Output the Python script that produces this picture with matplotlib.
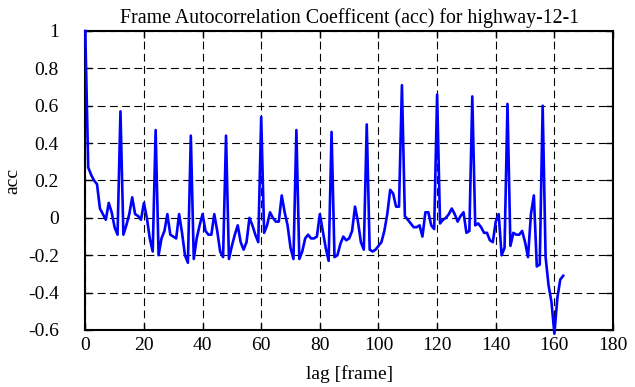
import matplotlib
matplotlib.use("Agg")
import matplotlib.pyplot as plt
import numpy as np

acc = [
    1.00, 0.27, 0.23, 0.20, 0.18, 0.05, 0.02, -0.01, 0.08, 0.03,
    -0.05, -0.09, 0.57, -0.09, -0.04, 0.02, 0.11, 0.02, 0.01, -0.01,
    0.08, 0.00, -0.11, -0.18, 0.47, -0.20, -0.11, -0.07, 0.02, -0.09,
    -0.10, -0.11, 0.02, -0.08, -0.20, -0.24, 0.44, -0.22, -0.11, -0.04,
    0.02, -0.07, -0.09, -0.09, 0.02, -0.07, -0.18, -0.21, 0.44, -0.22,
    -0.15, -0.09, -0.04, -0.13, -0.17, -0.13, 0.00, -0.04, -0.09, -0.13,
    0.54, -0.08, -0.04, 0.03, 0.00, -0.02, -0.02, 0.12, 0.03, -0.04,
    -0.16, -0.22, 0.47, -0.22, -0.18, -0.11, -0.09, -0.11, -0.11, -0.10,
    0.02, -0.07, -0.16, -0.23, 0.46, -0.21, -0.20, -0.14, -0.10, -0.12,
    -0.11, -0.07, 0.06, -0.02, -0.13, -0.17, 0.50, -0.17, -0.18, -0.17,
    -0.15, -0.13, -0.07, 0.02, 0.15, 0.13, 0.06, 0.06, 0.71, 0.01,
    -0.01, -0.03, -0.05, -0.05, -0.04, -0.10, 0.03, 0.03, -0.04, -0.06,
    0.66, -0.03, -0.01, 0.00, 0.02, 0.05, 0.02, -0.02, 0.01, 0.03,
    -0.08, -0.07, 0.65, -0.04, -0.03, -0.05, -0.08, -0.08, -0.12, -0.13,
    -0.02, 0.02, -0.20, -0.16, 0.61, -0.15, -0.08, -0.09, -0.09, -0.07,
    -0.13, -0.21, 0.02, 0.12, -0.26, -0.25, 0.60, -0.21, -0.36, -0.45,
    -0.62, -0.43, -0.33, -0.31,
]
lags = np.arange(len(acc))

xticks = [0, 20, 40, 60, 80, 100, 120, 140, 160, 180]
yticks = [-0.6, -0.4, -0.2, 0, 0.2, 0.4, 0.6, 0.8, 1]
ytick_labels = ["-0.6", "-0.4", "-0.2", "0", "0.2", "0.4", "0.6", "0.8", "1"]

plt.rcParams['font.family'] = ['Liberation Serif', 'DejaVu Serif']

fig = plt.figure(figsize=(6.35, 3.87), dpi=100)
ax = fig.add_axes([0.1343, 0.1473, 0.9654 - 0.1343, 0.9199 - 0.1473])

ax.plot(lags, acc, color=(0, 0, 1), lw=1.9, clip_on=False, zorder=3)

ax.set_xlim(0, 180)
ax.set_ylim(-0.6, 1)
ax.set_xticks(xticks)
ax.set_yticks(yticks)
ax.set_yticklabels(ytick_labels)
ax.grid(True, color='black', linestyle=(0, (7, 4)), linewidth=0.8)
ax.tick_params(direction='in', length=5, width=1, top=True, right=True,
               labelsize=14, colors='black')
ax.tick_params(axis='y', pad=19)
ax.tick_params(axis='x', pad=5)
for s in ax.spines.values():
    s.set_linewidth(1.5)
    s.set_color('black')

ax.set_title("Frame Autocorrelation Coefficent (acc) for highway-12-1", fontsize=14.3, pad=6)
ax.set_xlabel("lag [frame]", fontsize=14, labelpad=8)
ax.set_ylabel("acc", fontsize=14, labelpad=5)

fig.savefig("out.png", dpi=100)
